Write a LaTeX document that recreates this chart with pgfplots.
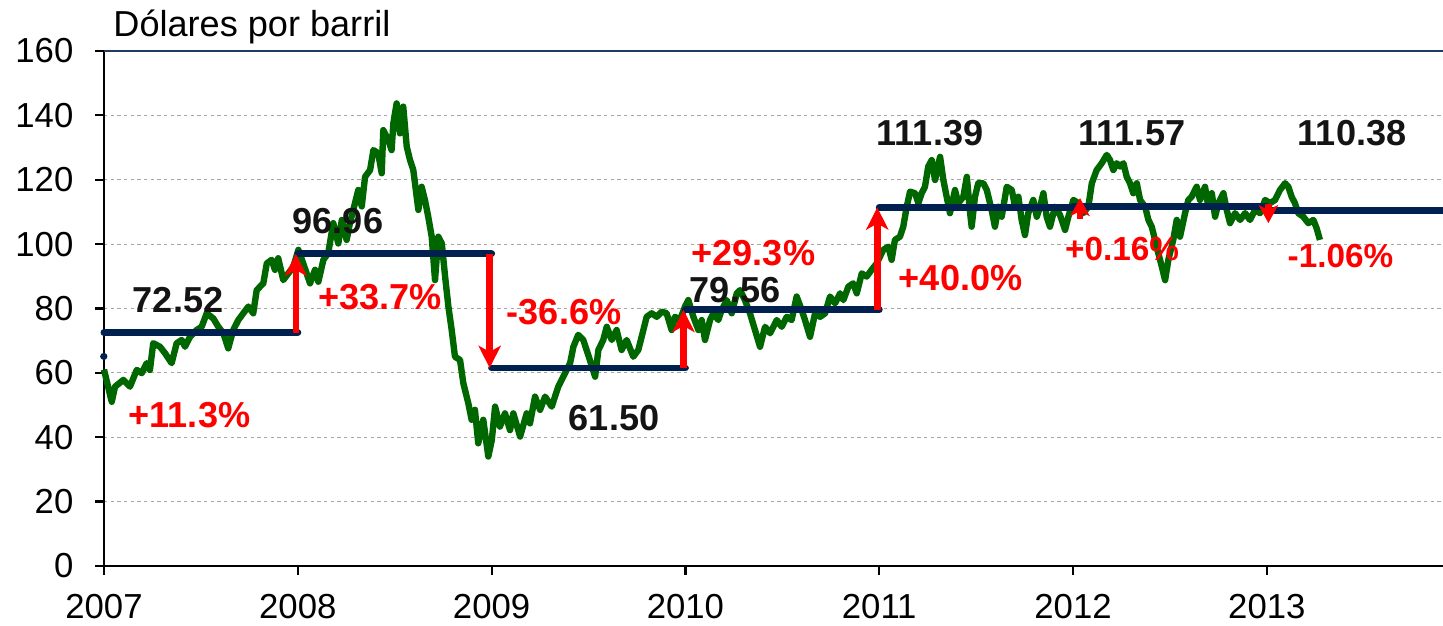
\documentclass[border=0pt]{standalone}
\usepackage{fontspec}
\setmainfont{Liberation Sans}
\usepackage{pgfplots}
\pgfplotsset{compat=1.18}
\usetikzlibrary{arrows.meta}
\definecolor{oilgreen}{RGB}{0,102,0}
\definecolor{navyl}{RGB}{0,32,80}
\definecolor{topblue}{RGB}{31,56,100}
\definecolor{lblack}{RGB}{20,20,20}
\begin{document}
\begin{tikzpicture}
\begin{axis}[
  scale only axis, width=482.04pt, height=185.4pt,
  xmin=2007, xmax=2013.909, ymin=0, ymax=160,
  axis x line*=bottom, axis y line*=left,
  axis line style={black, line width=0.8pt},
  xtick={2007,2008,2009,2010,2011,2012,2013},
  ytick={0,20,40,60,80,100,120,140,160},
  tick align=outside, major tick length=3.2pt,
  tick style={black, line width=0.8pt},
  ymajorgrids, grid style={gray!70, line width=0.4pt, dash pattern=on 1.2pt off 1.2pt},
  ticklabel style={font=\fontsize{12.5}{15}\selectfont},
  /pgf/number format/assume math mode=true,
  /pgf/number format/1000 sep={},
  yticklabel style={xshift=-4.3pt},
  xticklabel style={yshift=-3.6pt},
  clip=false,
]
\draw[topblue, line width=0.9pt] (rel axis cs:0,1) -- (rel axis cs:1,1);
\addplot[oilgreen, line width=2.3pt, line join=round] table {
2007.000 61
2007.040 51
2007.057 55.7
2007.100 57.8
2007.134 55.7
2007.169 60.9
2007.195 59.9
2007.220 63
2007.237 60.9
2007.254 69.2
2007.289 68.1
2007.315 66.1
2007.349 63
2007.375 69.2
2007.401 70.2
2007.418 68.1
2007.444 71.2
2007.478 73.3
2007.504 74.3
2007.530 78.5
2007.564 76.9
2007.590 74.3
2007.616 72.3
2007.641 67.6
2007.667 73.3
2007.693 76.4
2007.719 78.5
2007.745 80.6
2007.770 78.5
2007.788 85.7
2007.822 87.8
2007.840 94
2007.865 95.1
2007.882 92
2007.899 95.6
2007.925 88.8
2007.951 90.9
2007.977 93
2008.003 98.2
2008.028 94
2008.063 87.8
2008.089 92
2008.106 88.3
2008.132 95.1
2008.157 97.2
2008.183 106.5
2008.209 100.2
2008.227 107.5
2008.252 101.3
2008.269 106.5
2008.295 112.7
2008.312 116.8
2008.330 111.7
2008.347 120.9
2008.373 123
2008.390 129.2
2008.415 128.2
2008.433 122
2008.441 135.4
2008.467 132.3
2008.484 129.2
2008.493 137.5
2008.510 143.7
2008.527 134.4
2008.544 142.7
2008.562 130.3
2008.579 126.1
2008.596 123
2008.622 110.6
2008.639 117.8
2008.656 113.7
2008.673 108.5
2008.691 102.3
2008.708 88.8
2008.725 102.3
2008.743 100.2
2008.760 89.9
2008.777 80.6
2008.794 73.3
2008.811 65
2008.837 64
2008.854 56.8
2008.880 50.5
2008.897 45.4
2008.914 48.5
2008.931 38.1
2008.957 45.4
2008.983 34
2009.001 39.1
2009.018 49.5
2009.043 43.3
2009.069 47.4
2009.095 42.2
2009.112 47.4
2009.147 40.2
2009.181 47.4
2009.198 44.3
2009.224 52.6
2009.250 48.5
2009.276 52.6
2009.310 49.5
2009.344 55.7
2009.370 58.8
2009.405 63
2009.422 68.1
2009.447 71.8
2009.473 70.2
2009.499 65.5
2009.534 58.8
2009.551 67.1
2009.576 70.2
2009.594 74.3
2009.620 70.2
2009.645 73.3
2009.671 67.1
2009.697 70.2
2009.731 65
2009.757 67.1
2009.783 73.3
2009.800 77.4
2009.826 78.5
2009.852 77.4
2009.878 79
2009.903 78.5
2009.929 73.3
2009.946 77.4
2009.972 76.4
2009.998 80.6
2010.015 82.6
2010.041 77.4
2010.067 73.3
2010.084 76.4
2010.101 70.2
2010.127 76.4
2010.144 78.5
2010.170 76.4
2010.187 79.5
2010.213 82.6
2010.239 78.5
2010.265 84.7
2010.282 85.7
2010.307 82.6
2010.333 78.5
2010.359 73.3
2010.385 68.1
2010.411 74.3
2010.437 72.3
2010.471 76.4
2010.497 74.3
2010.523 77.4
2010.548 76.4
2010.574 83.7
2010.600 79.5
2010.617 76.4
2010.643 71.2
2010.669 78.5
2010.695 77.4
2010.721 78.5
2010.746 83.7
2010.772 81.6
2010.798 84.7
2010.815 82.6
2010.841 86.8
2010.866 87.8
2010.884 84.7
2010.910 90.9
2010.935 89.9
2010.961 92
2010.987 94
2011.021 98.2
2011.047 99.2
2011.064 95.1
2011.081 101.3
2011.107 102.3
2011.124 105.4
2011.142 111.6
2011.159 116.3
2011.185 115.8
2011.202 112.7
2011.219 115.8
2011.236 117.8
2011.253 124.1
2011.271 126.1
2011.288 119.9
2011.314 127.1
2011.331 119.9
2011.348 114.7
2011.365 109.6
2011.391 116.8
2011.408 112.7
2011.434 114.7
2011.452 120.9
2011.469 109.6
2011.477 105.4
2011.494 114.7
2011.511 118.9
2011.537 118.9
2011.555 116.8
2011.580 110.6
2011.597 105.4
2011.615 111.6
2011.632 108.5
2011.658 117.8
2011.684 116.8
2011.701 111.6
2011.718 114.7
2011.735 107.5
2011.752 102.8
2011.769 109.6
2011.795 113.7
2011.813 108.5
2011.830 111.6
2011.847 115.8
2011.864 108.5
2011.881 105.4
2011.907 111.6
2011.933 109.0
2011.959 104.4
2011.976 108.5
2012.002 113.7
2012.028 112.7
2012.053 109.6
2012.079 111.6
2012.097 118.9
2012.122 123
2012.148 125.1
2012.174 127.7
2012.191 126.1
2012.208 123
2012.225 125.1
2012.243 124.1
2012.260 125.1
2012.277 120.9
2012.294 118.9
2012.311 115.8
2012.329 118.9
2012.346 113.7
2012.372 111.6
2012.389 107.5
2012.406 105.4
2012.423 101.3
2012.440 97.2
2012.458 93
2012.475 88.8
2012.492 95.1
2012.517 101.3
2012.535 107.5
2012.552 102.3
2012.578 109.6
2012.595 113.7
2012.612 114.7
2012.638 117.8
2012.655 113.7
2012.681 117.8
2012.698 111.6
2012.716 115.8
2012.733 108.5
2012.750 112.7
2012.776 115.8
2012.793 110.6
2012.810 106.5
2012.836 109.6
2012.862 107.5
2012.888 109.6
2012.913 107.5
2012.939 110.6
2012.965 109.6
2012.991 113.7
2013.016 112.7
2013.042 113.7
2013.068 116.8
2013.094 118.9
2013.111 117.8
2013.128 114.7
2013.145 112.7
2013.162 109.6
2013.188 108.5
2013.214 106.5
2013.240 107.5
2013.257 104.9
2013.274 101.3
};
% annual averages
\addplot[navyl, line width=2.5pt, line cap=round] coordinates {(2006.998,65.16) (2007.0,65.16)};
\addplot[navyl, line width=2.5pt, line cap=round] coordinates {(2007,72.52) (2008,72.52)};
\addplot[navyl, line width=2.5pt, line cap=round] coordinates {(2008,96.96) (2009,96.96)};
\addplot[navyl, line width=2.5pt, line cap=round] coordinates {(2009,61.50) (2010,61.50)};
\addplot[navyl, line width=2.5pt, line cap=round] coordinates {(2010,79.56) (2011,79.56)};
\addplot[navyl, line width=2.5pt, line cap=round] coordinates {(2011,111.39) (2012,111.39)};
\addplot[navyl, line width=2.5pt, line cap=round] coordinates {(2012,111.57) (2013,111.57)};
\addplot[navyl, line width=2.5pt, line cap=round] coordinates {(2013,110.38) (2013.909,110.38)};
% change arrows
\addplot[red, line width=2.4pt, -{Stealth[length=8pt,width=8pt,inset=2.2pt]}] coordinates {(2007.99,72.52) (2007.99,96.96)};
\addplot[red, line width=2.4pt, -{Stealth[length=8pt,width=8pt,inset=2.2pt]}] coordinates {(2008.99,96.96) (2008.99,61.50)};
\addplot[red, line width=2.4pt, -{Stealth[length=8pt,width=8pt,inset=2.2pt]}] coordinates {(2009.99,61.50) (2009.99,79.56)};
\addplot[red, line width=2.4pt, -{Stealth[length=8pt,width=8pt,inset=2.2pt]}] coordinates {(2010.99,79.56) (2010.99,111.39)};
\addplot[red, line width=2.4pt, -{Stealth[length=6.5pt,width=7pt,inset=1.8pt]}] coordinates {(2012.036,107.8) (2012.036,114.3)};
\addplot[red, line width=2.4pt, -{Stealth[length=6.5pt,width=7pt,inset=1.8pt]}] coordinates {(2013.008,112.5) (2013.008,106.5)};
% value labels
\begin{scope}[every node/.style={font=\fontsize{13}{15}\selectfont\bfseries, text=lblack, inner sep=0pt}]
\node at (axis cs:2007.382,82.5) {72.52};
\node at (axis cs:2008.207,107.0) {96.96};
\node at (axis cs:2009.632,46.1) {61.50};
\node at (axis cs:2010.256,85.6) {79.56};
\node at (axis cs:2011.262,134.5) {111.39};
\node at (axis cs:2012.304,134.5) {111.57};
\node at (axis cs:2013.440,134.5) {110.38};
\end{scope}
\begin{scope}[every node/.style={font=\fontsize{13}{15}\selectfont\bfseries, text=red, inner sep=0pt}]
\node at (axis cs:2007.441,46.9) {+11.3\%};
\node at (axis cs:2008.424,83.4) {+33.7\%};
\node at (axis cs:2009.374,78.8) {-36.6\%};
\node at (axis cs:2010.351,97.2) {+29.3\%};
\node at (axis cs:2011.420,89.3) {+40.0\%};
\node[font=\fontsize{12}{14}\selectfont\bfseries] at (axis cs:2012.253,98.6) {+0.16\%};
\node[font=\fontsize{12}{14}\selectfont\bfseries] at (axis cs:2013.380,96.3) {-1.06\%};
\end{scope}
\node[anchor=base west, inner sep=0pt, font=\fontsize{13}{15}\selectfont] at (axis cs:2007.046,164.4) {Dólares por barril};
\coordinate (bbl) at (axis cs:2006.4634,-18.64);
\coordinate (bbr) at (axis cs:2013.909,175.83);
\end{axis}
\pgfresetboundingbox
\path[use as bounding box] (bbl) rectangle (bbr);
\end{tikzpicture}
\end{document}
